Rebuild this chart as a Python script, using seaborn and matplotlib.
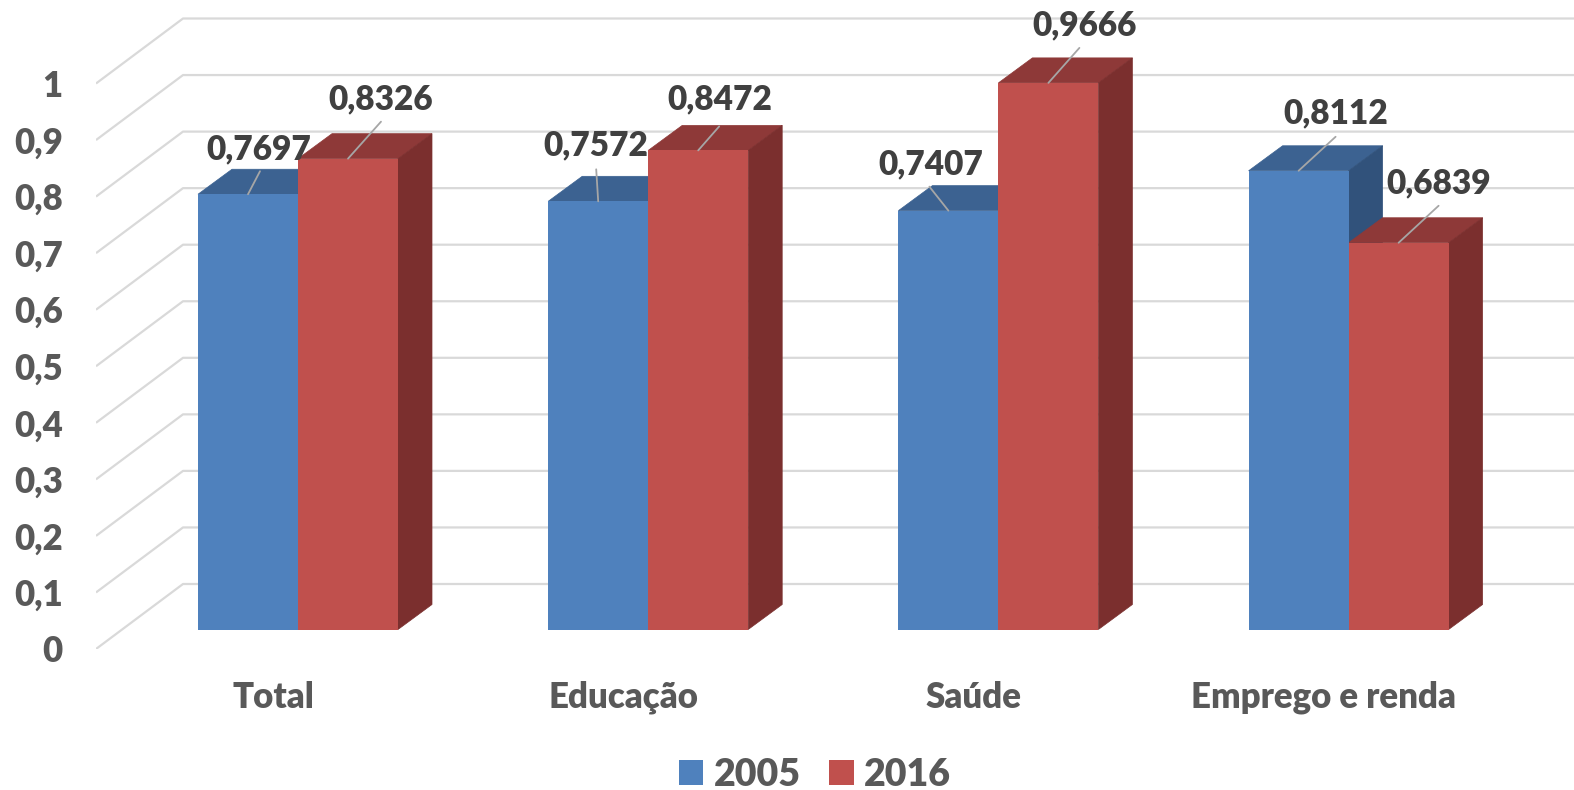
import numpy as np
import pandas as pd
import matplotlib.pyplot as plt
import seaborn as sns
from matplotlib.patches import Polygon

categories = ['Total', 'Educação', 'Saúde', 'Emprego e renda']
values_2005 = [0.7697, 0.7572, 0.7407, 0.8112]
values_2016 = [0.8326, 0.8472, 0.9666, 0.6839]
years = ['2005', '2016']
tick_values = [0, 0.1, 0.2, 0.3, 0.4, 0.5, 0.6, 0.7, 0.8, 0.9, 1]
tick_labels = ['0', '0,1', '0,2', '0,3', '0,4', '0,5', '0,6', '0,7', '0,8', '0,9', '1']

# leader end and label centre, pixels from the middle of the bar top, 2005 then 2016
leader_ends = [(12, 23), (-2, 32), (-19, 24), (37, 34), (33, 37), (21, 24), (31, 35), (40, 37)]
label_centres = [(11, 45), (-2, 56), (-18, 46), (37, 57), (33, 59), (22, 51), (36, 58), (40, 59)]

front_colors = {'2005': '#4F81BD', '2016': '#C0504D'}
top_colors = {'2005': '#3C6291', '2016': '#8E3938'}
side_colors = {'2005': '#31527B', '2016': '#7B2F2E'}
text_gray = '#595959'
label_gray = '#404040'
grid_gray = '#D9D9D9'

W, H = 1574, 790
# pixel scale of the chart
px_per_cat = 350.2
px_per_unit = 565.5
first_center = 298
base_y = 629.5

sns.set_theme(style='white')
plt.rcParams['font.family'] = ['Lato', 'DejaVu Sans']
plt.rcParams['font.weight'] = 'heavy'

df = pd.DataFrame({
    'category': categories * 2,
    'year': [years[0]] * 4 + [years[1]] * 4,
    'value': values_2005 + values_2016,
})

fig = plt.figure(figsize=(W / 100, H / 100), dpi=100)
ax = fig.add_axes([96 / W, (H - 649) / H, (W - 96) / W, 649 / H])

sns.barplot(data=df, x='category', y='value', hue='year', palette=front_colors,
            width=200 / px_per_cat, gap=0, saturation=1, ax=ax, zorder=3, legend=True,
            linewidth=0)


def cat_x(px):
    return (px - first_center) / px_per_cat


ax.set_xlim(cat_x(96), cat_x(W))
ax.set_ylim((base_y - 649) / px_per_unit, base_y / px_per_unit)

# 3d box depth
dx = 34 / px_per_cat
dy = 25 / px_per_unit

# walls: gridlines at the back, diagonals on the left
back_off = (base_y - 584) / px_per_unit
front_off = (base_y - 649) / px_per_unit
for v in tick_values:
    ax.plot([cat_x(96), cat_x(183), cat_x(W)],
            [v + front_off, v + back_off, v + back_off],
            color=grid_gray, lw=1.6, zorder=1, solid_capstyle='butt')

# tops and sides of the bars, leader lines and labels
idx = 0
for year, container in zip(years, ax.containers):
    z = 2 if year == '2005' else 2.5
    for bar in container:
        x0, x1 = bar.get_x(), bar.get_x() + bar.get_width()
        h = bar.get_height()
        ax.add_patch(Polygon([(x0, h), (x1, h), (x1 + dx, h + dy), (x0 + dx, h + dy)],
                             closed=True, fc=top_colors[year], ec=top_colors[year], lw=0.5, zorder=z))
        ax.add_patch(Polygon([(x1, 0), (x1 + dx, dy), (x1 + dx, h + dy), (x1, h)],
                             closed=True, fc=side_colors[year], ec=side_colors[year], lw=0.5, zorder=z))
        mid = (x0 + x1) / 2
        ax.annotate('', xy=(mid, h), xytext=leader_ends[idx], textcoords='offset pixels',
                    arrowprops=dict(arrowstyle='-', color='#A6A6A6', lw=1.3, shrinkA=0, shrinkB=0),
                    zorder=5)
        ax.annotate(f'{h:.4f}'.replace('.', ','), xy=(mid, h), xytext=label_centres[idx],
                    textcoords='offset pixels', ha='center', va='center',
                    fontsize=24, fontweight='heavy', color=label_gray, zorder=6)
        idx += 1

# tick labels sit on the front edge of the floor
ax.set_yticks(np.array(tick_values) + front_off, tick_labels)
ax.set_xticks(np.arange(4) - 25 / px_per_cat, categories)
ax.tick_params(axis='y', length=0, pad=24, labelsize=25, labelcolor=text_gray)
ax.tick_params(axis='x', length=0, pad=23, labelsize=25, labelcolor=text_gray)
ax.set_xlabel('')
ax.set_ylabel('')
sns.despine(ax=ax, left=True, bottom=True)

handles, labels = ax.get_legend_handles_labels()
ax.get_legend().remove()
fig.legend(handles, labels, loc='center', bbox_to_anchor=(815 / W, 1 - 775 / H), ncol=2,
           frameon=False, fontsize=27, labelcolor=text_gray, handlelength=0.65,
           handleheight=0.65, handletextpad=0.28, columnspacing=0.75,
           borderpad=0, borderaxespad=0)

plt.savefig('out.png', dpi=100)
plt.close()
